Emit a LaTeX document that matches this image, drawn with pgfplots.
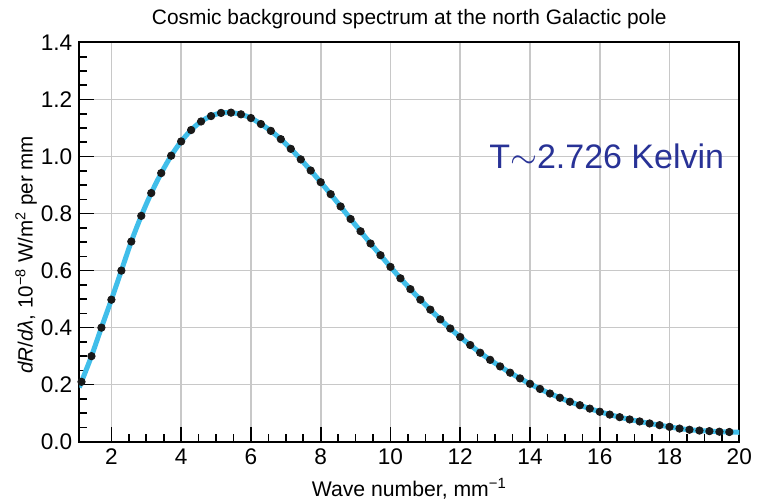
\documentclass[border=0pt]{standalone}
\usepackage{fontspec}
\setmainfont{Liberation Sans}
\usepackage{pgfplots}
\pgfplotsset{compat=1.18}
\definecolor{curveblue}{RGB}{64,190,234}
\definecolor{inkblue}{RGB}{40,50,150}
\definecolor{gridgray}{RGB}{200,200,200}
\begin{document}
\begin{tikzpicture}
\begin{axis}[
  name=ax,
  scale only axis,
  width=330pt, height=199.6pt,
  xmin=1.08, xmax=20,
  ymin=0, ymax=1.4,
  xtick={2,4,...,20},
  ytick={0,0.2,...,1.4},
  minor x tick num=3,
  minor y tick num=3,
  tick align=inside,
  xtick pos=bottom,
  ytick pos=left,
  major tick length=7.5pt,
  minor tick length=3.8pt,
  every tick/.style={black, line width=0.8pt},
  grid=major,
  major grid style={gridgray, line width=0.8pt},
  axis line style={black, line width=1pt},
  /pgf/number format/assume math mode=true,
  tick label style={font=\fontsize{11.3}{13}\selectfont},
  yticklabel style={/pgf/number format/fixed, /pgf/number format/fixed zerofill, /pgf/number format/precision=1},
  xticklabel style={/pgf/number format/fixed},
  xlabel={Wave number, mm\textsuperscript{−1}},
  xlabel style={at={(axis description cs:0.5,0)}, anchor=base, yshift=-27.5pt, font=\fontsize{10.6}{12}\selectfont},
  ylabel={\textit{dR}/\textit{dλ}, 10\textsuperscript{−8} W/m\textsuperscript{2} per mm},
  ylabel style={at={(axis description cs:-0.0806,0.468)}, anchor=center, font=\fontsize{10.3}{12}\selectfont},
]
\addplot[curveblue, line width=2.5pt, smooth] coordinates {
(1.08,0.190) (1.143,0.210) (1.429,0.300) (1.714,0.400) (2.000,0.498) (2.286,0.600) (2.571,0.702)
(2.857,0.792) (3.143,0.872) (3.429,0.942) (3.714,1.003) (4.000,1.053) (4.286,1.093)
(4.571,1.123) (4.857,1.142) (5.143,1.153) (5.429,1.154) (5.714,1.148) (6.000,1.135)
(6.286,1.114) (6.571,1.090) (6.857,1.061) (7.143,1.027) (7.429,0.990) (7.714,0.951)
(8.000,0.910) (8.286,0.868) (8.571,0.825) (8.857,0.781) (9.143,0.738) (9.429,0.695)
(9.714,0.654) (10.000,0.613) (10.286,0.573) (10.571,0.535) (10.857,0.498) (11.143,0.463)
(11.429,0.429) (11.714,0.397) (12.000,0.367) (12.286,0.339) (12.571,0.312) (12.857,0.287)
(13.143,0.264) (13.429,0.242) (13.714,0.222) (14.000,0.203) (14.286,0.185) (14.571,0.169)
(14.857,0.154) (15.143,0.140) (15.429,0.128) (15.714,0.116) (16.000,0.105) (16.286,0.095)
(16.571,0.086) (16.857,0.078) (17.143,0.071) (17.429,0.064) (17.714,0.058) (18.000,0.052)
(18.286,0.046) (18.571,0.042) (18.857,0.039) (19.143,0.037) (19.429,0.035) (19.714,0.034)
(20.000,0.033)
};
\addplot[only marks, mark=*, mark size=1.85pt, mark options={fill=black!90, draw=black!90}] coordinates {
(1.143,0.210) (1.429,0.300) (1.714,0.400) (2.000,0.498) (2.286,0.600) (2.571,0.702)
(2.857,0.792) (3.143,0.872) (3.429,0.942) (3.714,1.003) (4.000,1.053) (4.286,1.093)
(4.571,1.123) (4.857,1.142) (5.143,1.153) (5.429,1.154) (5.714,1.148) (6.000,1.135)
(6.286,1.114) (6.571,1.090) (6.857,1.061) (7.143,1.027) (7.429,0.990) (7.714,0.951)
(8.000,0.910) (8.286,0.868) (8.571,0.825) (8.857,0.781) (9.143,0.738) (9.429,0.695)
(9.714,0.654) (10.000,0.613) (10.286,0.573) (10.571,0.535) (10.857,0.498) (11.143,0.463)
(11.429,0.429) (11.714,0.397) (12.000,0.367) (12.286,0.339) (12.571,0.312) (12.857,0.287)
(13.143,0.264) (13.429,0.242) (13.714,0.222) (14.000,0.203) (14.286,0.185) (14.571,0.169)
(14.857,0.154) (15.143,0.140) (15.429,0.128) (15.714,0.116) (16.000,0.105) (16.286,0.095)
(16.571,0.086) (16.857,0.078) (17.143,0.071) (17.429,0.064) (17.714,0.058) (18.000,0.052)
(18.286,0.046) (18.571,0.042) (18.857,0.039) (19.143,0.037) (19.429,0.035) (19.714,0.034)
};
\node[inkblue, font=\fontsize{17}{19}\selectfont, anchor=center] at (axis cs:16.2,1.0) {T$\sim$2.726 Kelvin};
\end{axis}
\node[anchor=base, font=\fontsize{10.45}{12}\selectfont] at ([yshift=8.75pt]ax.north) {Cosmic background spectrum at the north Galactic pole};
\pgfresetboundingbox
\path[use as bounding box] ([xshift=-39.65pt,yshift=-29.15pt]ax.south west) rectangle ([xshift=9.35pt,yshift=21.25pt]ax.north east);
\end{tikzpicture}
\end{document}
